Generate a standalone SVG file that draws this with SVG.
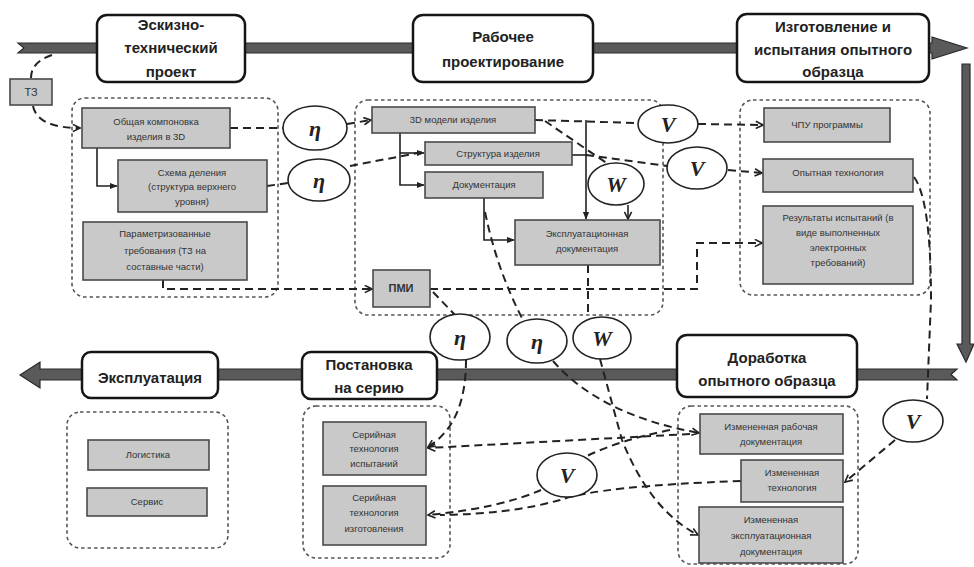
<svg xmlns="http://www.w3.org/2000/svg" width="974" height="567" viewBox="0 0 974 567">
<defs>
<style>
.band{fill:#5a5a5a;stroke:#2a2a2a;stroke-width:1.2}
.stage{fill:#fff;stroke:#151515;stroke-width:2.5}
.st{font-family:"Liberation Sans",Arial,sans-serif;font-weight:bold;font-size:15px;fill:#222;text-anchor:middle}
.cont{fill:none;stroke:#555;stroke-width:1.6;stroke-dasharray:3.5 3}
.box{fill:#c9c9c9;stroke:#4a4a4a;stroke-width:1.6}
.bt{font-family:"Liberation Sans",Arial,sans-serif;font-size:9.5px;fill:#333;text-anchor:middle}
.ell{fill:#fff;stroke:#222;stroke-width:1.6}
.et{font-family:"Liberation Serif","Times New Roman",serif;font-style:italic;font-weight:bold;font-size:22px;fill:#222;text-anchor:middle}
.d{fill:none;stroke:#222;stroke-width:2;stroke-dasharray:8 5}
.s{fill:none;stroke:#222;stroke-width:1.6}
</style>
<marker id="ao" viewBox="0 0 10 10" refX="9" refY="5" markerWidth="9" markerHeight="9" markerUnits="userSpaceOnUse" orient="auto"><path d="M1,1 L9,5 L1,9" fill="none" stroke="#222" stroke-width="1.8"/></marker>
<marker id="af" viewBox="0 0 10 10" refX="9" refY="5" markerWidth="8" markerHeight="8" markerUnits="userSpaceOnUse" orient="auto"><path d="M0,1 L10,5 L0,9 Z" fill="#222"/></marker>
</defs>
<rect width="974" height="567" fill="#fff"/>

<g id="bands">
<polygon class="band" points="18,43 932,43 932,37 967,48 932,59 932,53 18,53 24,48"/>
<polygon class="band" points="962,64 970,64 970,344 974,344 966,362 957,344 962,344"/>
<polygon class="band" points="40,362 40,369 957,369 951,374.5 957,380 40,380 40,388 20,375"/>
</g>

<g id="containers">
<rect class="cont" x="72" y="98" width="206" height="199" rx="13"/>
<rect class="cont" x="355" y="100" width="308" height="215" rx="13"/>
<rect class="cont" x="740" y="100" width="190" height="195" rx="13"/>
<rect class="cont" x="67" y="412" width="161" height="136" rx="13"/>
<rect class="cont" x="303" y="406" width="147" height="152" rx="13"/>
<rect class="cont" x="678" y="406" width="180" height="158" rx="13"/>
</g>

<g id="connectors">
<path class="d" d="M52,55 Q31,62 31,78"/>
<path class="d" d="M33,106 C36,122 55,128 80,128" marker-end="url(#ao)"/>
<path class="d" d="M230,128 L283,128"/>
<path class="d" d="M347,124 L371,120" marker-end="url(#ao)"/>
<path class="s" d="M97,148 V186 H117" marker-end="url(#af)"/>
<path class="d" d="M267,186 L288,183"/>
<path class="d" d="M350,166 L423,152"/>
<path class="s" d="M400,133 V185 H424" marker-end="url(#af)"/>
<path class="s" d="M400,153 H424" marker-end="url(#af)"/>
<path class="d" d="M535,120 L638,123"/>
<path class="d" d="M698,124 L763,125" marker-end="url(#ao)"/>
<path class="s" d="M572,155 H586"/>
<path class="d" d="M586,155 L667,166"/>
<path class="s" d="M586,120 V219" marker-end="url(#af)"/>
<path class="d" d="M545,121 L608,164"/>
<path class="s" d="M628,205 V219" marker-end="url(#ao)"/>
<path class="d" d="M728,170 L762,173" marker-end="url(#ao)"/>
<path class="s" d="M484,198 V240 H514" marker-end="url(#af)"/>
<path class="d" d="M485,212 Q497,270 523,320"/>
<path class="d" d="M163,280 V289 H372" marker-end="url(#ao)"/>
<path class="d" d="M430,289 H697 V243 H762" marker-end="url(#ao)"/>
<path class="d" d="M433,292 L455,315"/>
<path class="d" d="M466,360 C466,400 455,430 428,447" marker-end="url(#ao)"/>
<path class="d" d="M588,265 V317"/>
<path class="d" d="M600,359 L622,440 Q650,510 698,535" marker-end="url(#ao)"/>
<path class="d" d="M553,361 Q600,415 699,433" marker-end="url(#ao)"/>
<path class="d" d="M690,434 L428,448" marker-end="url(#ao)"/>
<path class="d" d="M670,430 Q620,440 587,456"/>
<path class="d" d="M541,490 Q500,508 428,515" marker-end="url(#ao)"/>
<path class="d" d="M741,481 Q600,486 560,500 Q510,514 440,515"/>
<path class="d" d="M914,177 Q931,200 931,300 L927,399"/>
<path class="d" d="M895,440 L845,482" marker-end="url(#ao)"/>
</g>

<g id="stage-eskiz"><rect class="stage" x="97" y="15" width="148" height="67" rx="10"/>
<text class="st" x="171" y="30">Эскизно-</text><text class="st" x="171" y="53">технический</text><text class="st" x="171" y="77">проект</text></g>
<g id="stage-rabochee"><rect class="stage" x="413" y="15" width="180" height="67" rx="10"/>
<text class="st" x="503" y="42">Рабочее</text><text class="st" x="503" y="67">проектирование</text></g>
<g id="stage-izgot"><rect class="stage" x="737" y="14" width="192" height="68" rx="10"/>
<text class="st" x="833" y="32">Изготовление и</text><text class="st" x="833" y="55">испытания опытного</text><text class="st" x="833" y="77">образца</text></g>
<g id="stage-ekspl"><rect class="stage" x="82" y="352" width="136" height="46" rx="9"/>
<text class="st" x="150" y="383">Эксплуатация</text></g>
<g id="stage-postanovka"><rect class="stage" x="302" y="352" width="135" height="47" rx="9"/>
<text class="st" x="369" y="370">Постановка</text><text class="st" x="369" y="393">на серию</text></g>
<g id="stage-dorabotka"><rect class="stage" x="677" y="335" width="180" height="62" rx="10"/>
<text class="st" x="767" y="363">Доработка</text><text class="st" x="767" y="386">опытного образца</text></g>

<g id="box-tz"><rect class="box" x="10" y="79" width="42" height="26"/><text class="bt" x="31" y="96" style="font-size:11px">ТЗ</text></g>
<g id="box-komponovka"><rect class="box" x="82" y="108" width="148" height="40"/>
<text class="bt" x="156" y="125">Общая компоновка</text><text class="bt" x="156" y="140">изделия в 3D</text></g>
<g id="box-skhema"><rect class="box" x="118" y="160" width="149" height="52"/>
<text class="bt" x="192" y="176">Схема деления</text><text class="bt" x="192" y="190">(структура верхнего</text><text class="bt" x="192" y="205">уровня)</text></g>
<g id="box-param"><rect class="box" x="83" y="222" width="164" height="58"/>
<text class="bt" x="165" y="237">Параметризованные</text><text class="bt" x="165" y="254">требования (ТЗ на</text><text class="bt" x="165" y="270">составные части)</text></g>
<g id="box-3d"><rect class="box" x="372" y="107" width="163" height="26"/><text class="bt" x="453" y="123">3D модели изделия</text></g>
<g id="box-struktura"><rect class="box" x="425" y="142" width="147" height="23"/><text class="bt" x="498" y="157">Структура изделия</text></g>
<g id="box-dokum"><rect class="box" x="425" y="172" width="118" height="26"/><text class="bt" x="484" y="188">Документация</text></g>
<g id="box-eksdok"><rect class="box" x="515" y="220" width="145" height="45"/>
<text class="bt" x="587" y="237">Эксплуатационная</text><text class="bt" x="587" y="252">документация</text></g>
<g id="box-pmi"><rect class="box" x="373" y="270" width="57" height="37"/><text class="bt" x="401" y="292" style="font-size:11px;font-weight:bold">ПМИ</text></g>
<g id="box-chpu"><rect class="box" x="764" y="108" width="126" height="34"/><text class="bt" x="827" y="128">ЧПУ программы</text></g>
<g id="box-opyt"><rect class="box" x="763" y="159" width="150" height="33"/><text class="bt" x="838" y="176">Опытная технология</text></g>
<g id="box-rezult"><rect class="box" x="763" y="206" width="150" height="78"/>
<text class="bt" x="838" y="221">Результаты испытаний (в</text><text class="bt" x="838" y="236">виде выполненных</text><text class="bt" x="838" y="251">электронных</text><text class="bt" x="838" y="266">требований)</text></g>
<g id="box-logist"><rect class="box" x="88" y="440" width="121" height="30"/><text class="bt" x="148" y="458">Логистика</text></g>
<g id="box-servis"><rect class="box" x="87" y="488" width="120" height="28"/><text class="bt" x="147" y="505">Сервис</text></g>
<g id="box-ser-isp"><rect class="box" x="323" y="422" width="103" height="53"/>
<text class="bt" x="374" y="438">Серийная</text><text class="bt" x="374" y="452">технология</text><text class="bt" x="374" y="467">испытаний</text></g>
<g id="box-ser-izg"><rect class="box" x="323" y="486" width="103" height="59"/>
<text class="bt" x="374" y="501">Серийная</text><text class="bt" x="374" y="516">технология</text><text class="bt" x="374" y="532">изготовления</text></g>
<g id="box-izm-rab"><rect class="box" x="700" y="414" width="143" height="40"/>
<text class="bt" x="771" y="430">Измененная рабочая</text><text class="bt" x="771" y="445">документация</text></g>
<g id="box-izm-tekh"><rect class="box" x="741" y="460" width="102" height="42"/>
<text class="bt" x="792" y="476">Измененная</text><text class="bt" x="792" y="491">технология</text></g>
<g id="box-izm-eksdok"><rect class="box" x="699" y="507" width="144" height="56"/>
<text class="bt" x="771" y="523">Измененная</text><text class="bt" x="771" y="539">эксплуатационная</text><text class="bt" x="771" y="555">документация</text></g>

<g id="ell-eta1"><ellipse class="ell" cx="315" cy="128" rx="32" ry="22"/><text class="et" x="315" y="136">η</text></g>
<g id="ell-eta2"><ellipse class="ell" cx="319" cy="180" rx="31" ry="21"/><text class="et" x="319" y="188">η</text></g>
<g id="ell-v1"><ellipse class="ell" cx="668" cy="124" rx="30" ry="19"/><text class="et" x="668" y="132">V</text></g>
<g id="ell-v2"><ellipse class="ell" cx="697" cy="168" rx="30" ry="21"/><text class="et" x="697" y="176">V</text></g>
<g id="ell-w1"><ellipse class="ell" cx="616" cy="184" rx="28" ry="21"/><text class="et" x="616" y="192">W</text></g>
<g id="ell-eta3"><ellipse class="ell" cx="460" cy="337" rx="30" ry="23"/><text class="et" x="460" y="345">η</text></g>
<g id="ell-eta4"><ellipse class="ell" cx="537" cy="341" rx="30" ry="22"/><text class="et" x="537" y="349">η</text></g>
<g id="ell-w2"><ellipse class="ell" cx="602" cy="338" rx="29" ry="21"/><text class="et" x="602" y="346">W</text></g>
<g id="ell-v3"><ellipse class="ell" cx="913" cy="421" rx="30" ry="21"/><text class="et" x="913" y="429">V</text></g>
<g id="ell-v4"><ellipse class="ell" cx="567" cy="475" rx="30" ry="22"/><text class="et" x="567" y="483">V</text></g>
</svg>
